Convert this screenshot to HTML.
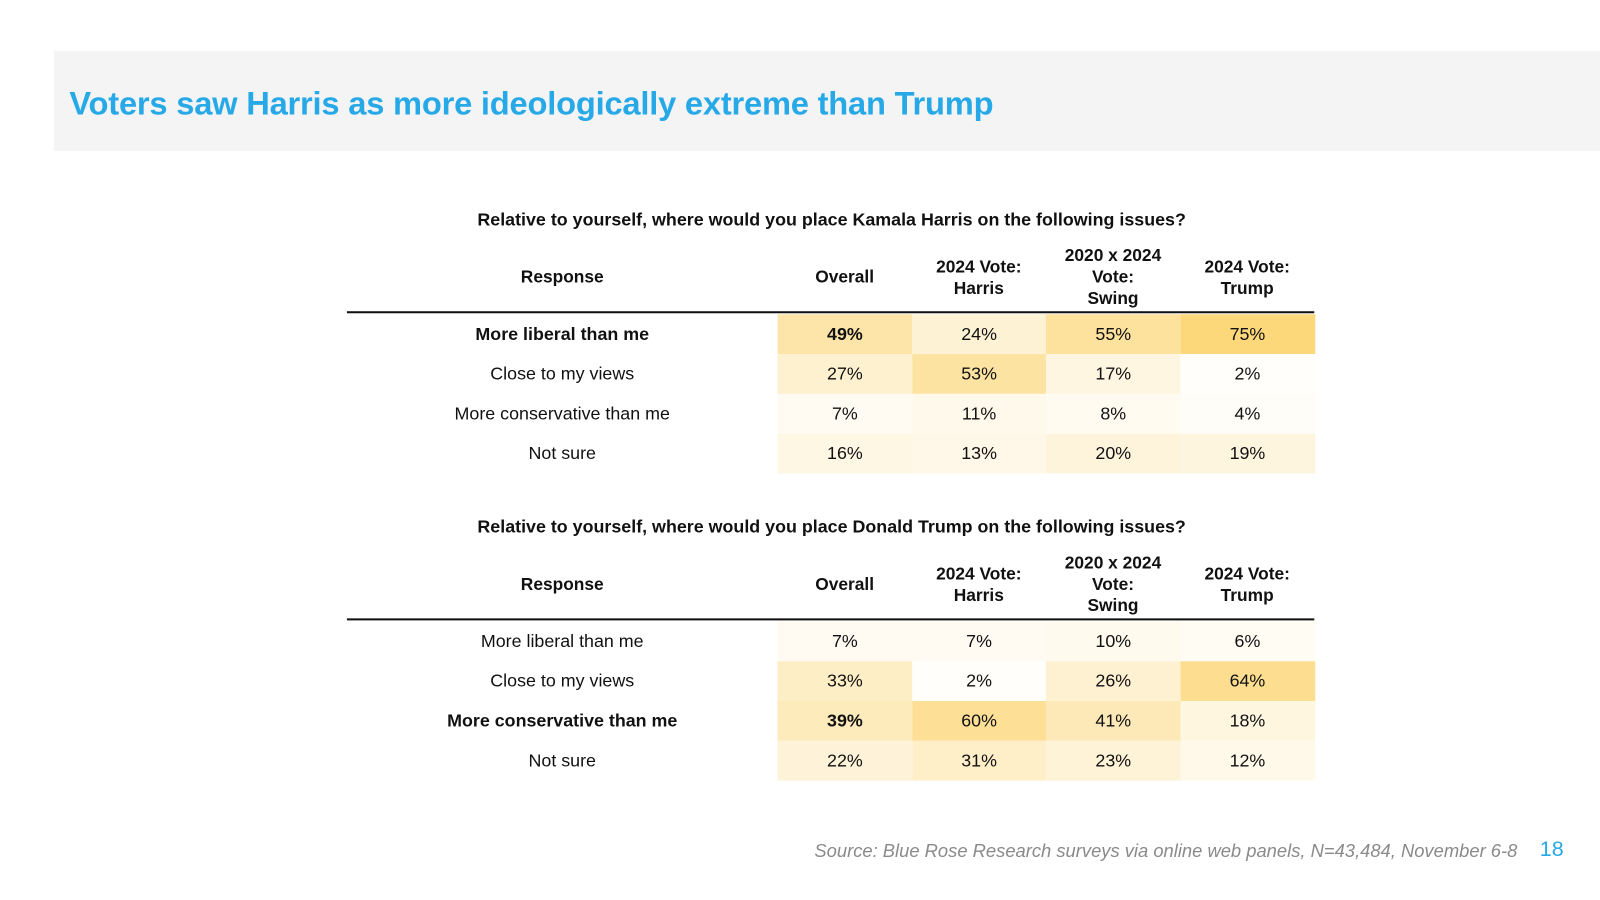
<!DOCTYPE html>
<html><head><meta charset="utf-8"><style>
body{margin:0;width:1600px;height:900px;background:#fff;font-family:"Liberation Sans",sans-serif;overflow:hidden;color:#111}
#wrap{position:absolute;left:0;top:0;width:1568px;height:882px;transform:scale(1.0204);transform-origin:0 0}
.band{position:absolute;left:53px;top:50px;width:1530px;height:98px;background:#f4f4f4}
.title{position:absolute;left:68px;top:83px;font-size:32px;font-weight:bold;color:#27a9e8;letter-spacing:-0.2px}
.sub{position:absolute;left:290px;width:1050px;text-align:center;font-size:17.5px;font-weight:bold}
.hdr{position:absolute;font-size:17px;font-weight:bold;text-align:center;display:flex;align-items:center;justify-content:center;line-height:21px}
.line{position:absolute;left:340px;width:948px;height:2px;background:#111}
.cell{position:absolute;display:flex;align-items:center;justify-content:center;font-size:17.5px}
.src{position:absolute;right:81px;top:824px;font-size:18px;font-style:italic;color:#8a8a8a}
.pg{position:absolute;left:1509px;top:821px;font-size:21px;color:#27a9e8}
</style></head><body>
<div id="wrap">
<div class="band"></div>
<div class="title">Voters saw Harris as more ideologically extreme than Trump</div>
<div id="root"></div>
<div class="src">Source: Blue Rose Research surveys via online web panels, N=43,484, November 6-8</div>
<div class="pg">18</div>
</div>
<script>
const columns=["Overall","2024 Vote:<br>Harris","2020 x 2024<br>Vote:<br>Swing","2024 Vote:<br>Trump"];
const responses=["More liberal than me","Close to my views","More conservative than me","Not sure"];
const harrisValues=[[49,24,55,75],[27,53,17,2],[7,11,8,4],[16,13,20,19]];
const trumpValues=[[7,7,10,6],[33,2,26,64],[39,60,41,18],[22,31,23,12]];
const tables=[{q:"Relative to yourself, where would you place Kamala Harris on the following issues?",v:harrisValues,bold:0,top:205},
{q:"Relative to yourself, where would you place Donald Trump on the following issues?",v:trumpValues,bold:2,top:506}];
const root=document.getElementById('root');
function color(v){const t=Math.min(v/78,1);const r=Math.round(255+(252-255)*t),g=Math.round(255+(214-255)*t),b=Math.round(255+(118-255)*t);return `rgb(${r},${g},${b})`;}
const colX=[762,893.5,1025,1156.5],colW=131.5,rowH=39;
tables.forEach((tb,ti)=>{
 const s=document.createElement('div');s.className='sub';s.style.top=tb.top+'px';s.textContent=tb.q;
 
 
 root.appendChild(s);
 const ht=tb.top+33,hh=67;
 const rh=document.createElement('div');rh.className='hdr';rh.style.cssText=`left:340px;width:422px;top:${ht}px;height:${hh}px`;rh.textContent='Response';
 
 
 root.appendChild(rh);
 columns.forEach((c,ci)=>{const h=document.createElement('div');h.className='hdr';h.style.cssText=`left:${colX[ci]}px;width:${colW}px;top:${ht}px;height:${hh}px`;h.innerHTML=c;
 
 
 root.appendChild(h);});
 const ln=document.createElement('div');ln.className='line';ln.style.top=(tb.top+100)+'px';
 
 
 root.appendChild(ln);
 const r0=tb.top+103;
 responses.forEach((r,ri)=>{
  const y=r0+ri*rowH;const b=ri===tb.bold?'bold':'normal';
  const l=document.createElement('div');l.className='cell';l.style.cssText=`left:340px;width:422px;top:${y}px;height:${rowH}px;font-weight:${b}`;l.textContent=r;
  
  
  root.appendChild(l);
  tb.v[ri].forEach((v,ci)=>{const c=document.createElement('div');c.className='cell';c.style.cssText=`left:${colX[ci]}px;width:${colW+0.5}px;top:${y}px;height:${rowH}px;background:${color(v)};font-weight:${(b==='bold'&&ci===0)?'bold':'normal'}`;c.textContent=v+'%';
  
  
  root.appendChild(c);});
 });
});
</script>
</body></html>
